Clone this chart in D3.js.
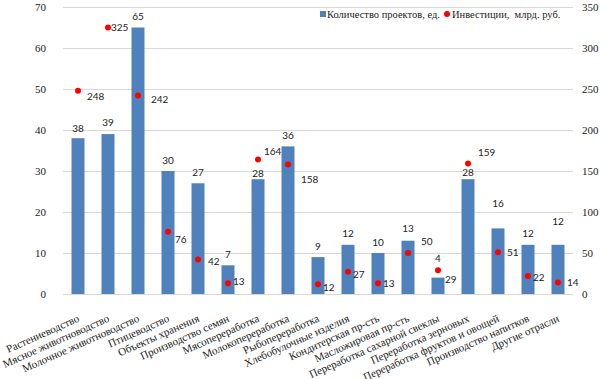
<!DOCTYPE html>
<html>
<head>
<meta charset="utf-8">
<script src="https://cdn.jsdelivr.net/npm/d3@7"></script>
<style>
  html, body { margin: 0; padding: 0; background: #fff; }
  svg { display: block; }
</style>
</head>
<body>
<svg id="chart" width="605" height="379"></svg>
<script>
// ---- data ----
const categories = [
  "Растениеводство",
  "Мясное животноводство",
  "Молочное животноводство",
  "Птицеводство",
  "Объекты хранения",
  "Производство семян",
  "Мясопереработка",
  "Молокопереработка",
  "Рыбопереработка",
  "Хлебобулочные изделия",
  "Кондитерская пр-сть",
  "Масложировая пр-сть",
  "Переработка сахарной свеклы",
  "Переработка зерновых",
  "Переработка фруктов и овощей",
  "Производство напитков",
  "Другие отрасли"
];
const projects = [38, 39, 65, 30, 27, 7, 28, 36, 9, 12, 10, 13, 4, 28, 16, 12, 12];
const investments = [248, 325, 242, 76, 42, 13, 164, 158, 12, 27, 13, 50, 29, 159, 51, 22, 14];
const leftTicks = [0, 10, 20, 30, 40, 50, 60, 70];
const rightTicks = [0, 50, 100, 150, 200, 250, 300, 350];
const seriesNames = ["Количество проектов, ед.", "Инвестиции,  млрд. руб."];

// ---- label nudges (layout only) ----
const barLabelLift = [10, 12, 11, 11, 11, 11, 6, 11, 11, 11, 11, 12, 19, 7, 25, 11, 23];
const dotLabelShift = [[9,6],[3,0],[13,4],[7,8],[10,2],[5,-2],[6,-8],[13,15],[5,3],[5,3],[5,0],[13,-12],[7,9],[10,-11],[9,0],[5,2],[9,0]];

// ---- styles ----
const barColor = "#4f81bd";
const dotColor = "#ff0000";
const gridColor = "#d9d9d9";
const serif = "'Liberation Serif', 'Times New Roman', serif";
const sans = "Lato, 'Liberation Sans', sans-serif";

const svg = d3.select("#chart");
const plot = { left: 63, right: 573, top: 7, bottom: 294 };

const x = d3.scalePoint().domain(categories).range([plot.left, plot.right]).padding(0.5);
const barW = 13;
const yL = d3.scaleLinear().domain([0, 70]).range([plot.bottom, plot.top]);
const yR = d3.scaleLinear().domain([0, 350]).range([plot.bottom, plot.top]);

// gridlines
svg.append("g").selectAll("line").data(leftTicks).join("line")
  .attr("x1", plot.left).attr("x2", plot.right)
  .attr("y1", d => Math.round(yL(d)) + 0.5).attr("y2", d => Math.round(yL(d)) + 0.5)
  .attr("stroke", gridColor).attr("stroke-width", 1);

// left axis labels
svg.append("g").selectAll("text").data(leftTicks).join("text")
  .attr("x", 46).attr("y", d => yL(d)).attr("dy", "0.35em")
  .attr("text-anchor", "end")
  .style("font-family", serif).style("font-size", "11px").attr("fill", "#222")
  .text(d => d);

// right axis labels
svg.append("g").selectAll("text").data(rightTicks).join("text")
  .attr("x", 582).attr("y", d => yR(d)).attr("dy", "0.35em")
  .attr("text-anchor", "start")
  .style("font-family", serif).style("font-size", "11px").attr("fill", "#222")
  .text(d => d);

// bars
svg.append("g").selectAll("rect").data(projects).join("rect")
  .attr("x", (d, i) => x(categories[i]) - barW / 2)
  .attr("width", barW)
  .attr("y", d => yL(d))
  .attr("height", d => yL(0) - yL(d))
  .attr("fill", barColor);

// bar labels
svg.append("g").selectAll("text").data(projects).join("text")
  .attr("x", (d, i) => x(categories[i]))
  .attr("y", (d, i) => yL(d) - barLabelLift[i])
  .attr("dy", "0.35em")
  .attr("text-anchor", "middle")
  .style("font-family", sans).style("font-size", "10px").attr("fill", "#222")
  .text(d => d);

// dots
svg.append("g").selectAll("circle").data(investments).join("circle")
  .attr("cx", (d, i) => x(categories[i]))
  .attr("cy", d => yR(d))
  .attr("r", 3)
  .attr("fill", dotColor);

// dot labels
svg.append("g").selectAll("text").data(investments).join("text")
  .attr("x", (d, i) => x(categories[i]) + dotLabelShift[i][0])
  .attr("y", (d, i) => yR(d) + dotLabelShift[i][1])
  .attr("dy", "0.35em")
  .attr("text-anchor", "start")
  .style("font-family", sans).style("font-size", "10px").attr("fill", "#222")
  .text(d => d);

// category labels
svg.append("g").selectAll("text").data(categories).join("text")
  .attr("transform", d => `translate(${x(d) + 2},${321}) rotate(-24)`)
  .attr("text-anchor", "end")
  .style("font-family", serif).style("font-size", "11px").attr("fill", "#222")
  .text(d => d);

// legend
const lg = svg.append("g");
lg.append("rect").attr("x", 320).attr("y", 11).attr("width", 6).attr("height", 6).attr("fill", barColor);
lg.append("text").attr("x", 327).attr("y", 14).attr("dy", "0.35em")
  .style("font-family", serif).style("font-size", "10.5px").attr("fill", "#222")
  .text(seriesNames[0]);
lg.append("circle").attr("cx", 447).attr("cy", 14).attr("r", 3).attr("fill", dotColor);
lg.append("text").attr("x", 452).attr("y", 14).attr("dy", "0.35em")
  .style("font-family", serif).style("font-size", "10.5px").style("white-space", "pre").attr("fill", "#222")
  .text(seriesNames[1]);
</script>
</body>
</html>
